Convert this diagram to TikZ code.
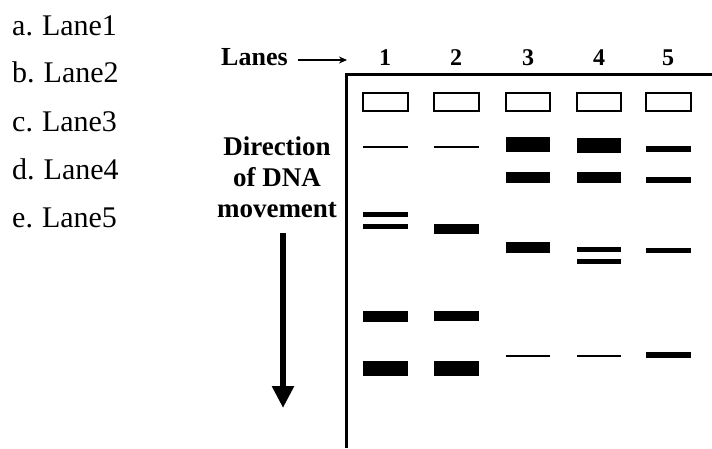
\documentclass[tikz,border=0pt]{standalone}
\usepackage{fontspec}
\setmainfont{Liberation Serif}
\usetikzlibrary{arrows.meta}
\begin{document}
\begin{tikzpicture}[x=1pt,y=-1pt,
  listlabel/.style={anchor=base west,inner sep=0pt,font=\fontsize{30}{30}\selectfont},
  boldlabel/.style={inner sep=0pt,font=\fontsize{26}{28}\selectfont\bfseries},
  dirlabel/.style={inner sep=0pt,font=\fontsize{27}{31}\selectfont\bfseries},
  lanenum/.style={anchor=base,inner sep=0pt,font=\fontsize{24}{24}\selectfont\bfseries},
  well/.style={draw,line width=1.3pt},
  band/.style={fill=black}]
\useasboundingbox (0,0) rectangle (712,448);
% answer list
\node[listlabel] (la) at (12,35) {a.\kern-1pt{} Lane1};
\node[listlabel] (lb) at (12,82) {b.\kern-1pt{} Lane2};
\node[listlabel] (lc) at (12,131) {c.\kern-1pt{} Lane3};
\node[listlabel] (ld) at (12,179) {d.\kern-1pt{} Lane4};
\node[listlabel] (le) at (12,227) {e.\kern-1pt{} Lane5};
% lanes label
\node[boldlabel,anchor=base west] (lanes) at (221,65) {Lanes};
\coordinate (lanesarrow) at (347,60);
\draw[line width=1.6pt,-{Stealth[length=8pt,width=7pt]}] (lanes.east|-lanesarrow) ++(10,0) -- (lanesarrow);
\node[lanenum] (n1) at (385,65) {1};
\node[lanenum] (n2) at (456,65) {2};
\node[lanenum] (n3) at (528,65) {3};
\node[lanenum] (n4) at (599,65) {4};
\node[lanenum] (n5) at (668,65) {5};
% direction label
\node[dirlabel,align=center,anchor=north] (dir) at (277,137) {Direction\\of DNA\\movement};
\coordinate (arrtop) at (283,233);
\coordinate (arrtip) at (283,408);
\draw[line width=6pt,-{Triangle[length=22pt,width=21pt]}] (arrtop) -- (arrtip);
% gel frame
\draw[line width=3pt] (346,448) -- (346,74) -- (712,74);
% wells
\foreach \a/\b in {363/408,434/479,506/550,577/621,646/691}
  \draw[well] (\a,93) rectangle (\b,111);
% bands
\foreach \a/\b/\t/\u in {
  363/408/146/148, 363/408/212/217, 363/408/224/229, 363/408/311/322, 363/408/361/376,
  434/479/146/148, 434/479/224/234, 434/479/311/321, 434/479/361/376,
  506/550/137/152, 506/550/172/183, 506/550/242/253, 506/550/354.5/356.5,
  577/621/138/153, 577/621/172/183, 577/621/247/252, 577/621/259/264, 577/621/355/357,
  646/691/146/152, 646/691/177/183, 646/691/248/253, 646/691/352/358}
  \fill[band] (\a,\t) rectangle (\b,\u);
\end{tikzpicture}
\end{document}
